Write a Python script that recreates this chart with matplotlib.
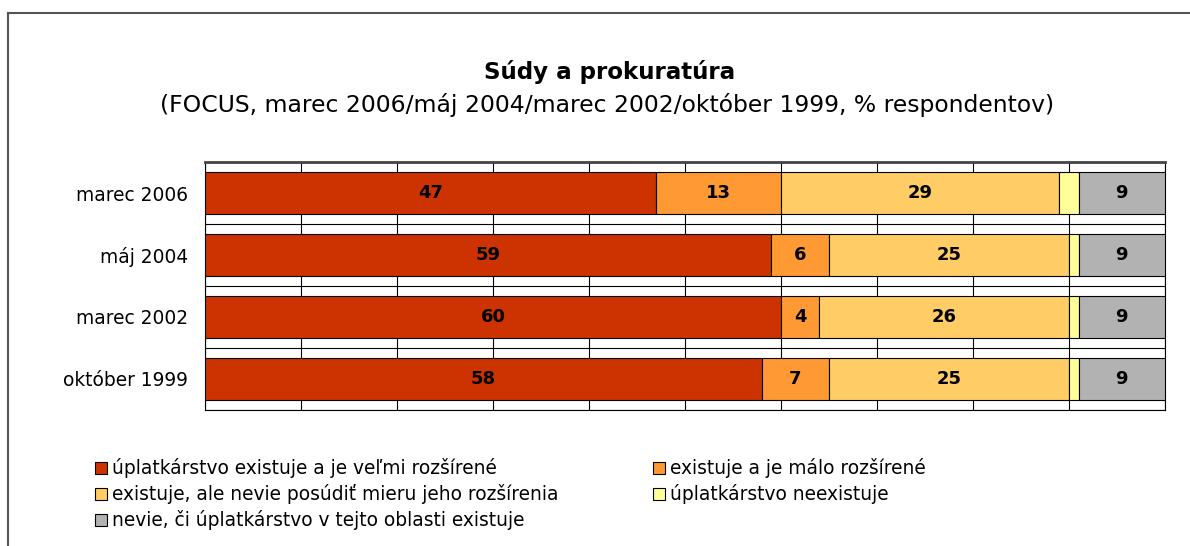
import numpy as np
import matplotlib
matplotlib.use('Agg')
import matplotlib.pyplot as plt
from matplotlib.patches import Rectangle
from matplotlib.lines import Line2D

plt.rcParams['font.family'] = ['DejaVu Sans']

# data
periods = ["marec 2006", "máj 2004", "marec 2002", "október 1999"]
series = [
    "úplatkárstvo existuje a je veľmi rozšírené",
    "existuje a je málo rozšírené",
    "existuje, ale nevie posúdiť mieru jeho rozšírenia",
    "úplatkárstvo neexistuje",
    "nevie, či úplatkárstvo v tejto oblasti existuje",
]
very_common = [47, 59, 60, 58]
little_common = [13, 6, 4, 7]
cant_judge = [29, 25, 26, 25]
not_exist = [2, 1, 1, 1]
dont_know = [9, 9, 9, 9]
colors = ["#CC3300", "#FF9933", "#FFCC66", "#FFFF99", "#B2B2B2"]
show_label = [True, True, True, False, True]

W, H = 1190, 546
fig = plt.figure(figsize=(W / 100, H / 100), dpi=100)
fig.patch.set_facecolor("white")

# outer frame (only left/top visible in the crop)
fig.add_artist(Line2D([8 / W, 8 / W], [0, 1 - 13 / H], color="#555555", lw=1.5))
fig.add_artist(Line2D([8 / W, 1], [1 - 13 / H, 1 - 13 / H], color="#555555", lw=1.5))

ax = fig.add_axes([205 / W, 1 - 410 / H, 960 / W, 248 / H])
vals = np.array([very_common, little_common, cant_judge, not_exist, dont_know])
y = np.arange(len(periods))
left = np.zeros(len(periods))
for i, name in enumerate(series):
    bars = ax.barh(y, vals[i], left=left, height=0.68, color=colors[i],
                   edgecolor="black", linewidth=0.8, label=name, zorder=3)
    if show_label[i]:
        for b, v in zip(bars, vals[i]):
            ax.text(b.get_x() + b.get_width() / 2, b.get_y() + b.get_height() / 2,
                    str(v), ha="center", va="center", fontsize=13,
                    fontweight="bold", zorder=4)
    left += vals[i]

ax.set_xlim(0, 100)
ax.set_ylim(len(periods) - 0.5, -0.5)
ax.set_xticks(np.arange(0, 101, 10))
ax.set_xticklabels([])
ax.set_yticks(y)
ax.set_yticklabels(periods, fontsize=13.4)
ax.set_yticks(np.arange(-0.5, len(periods), 1), minor=True)
ax.tick_params(axis="x", length=0)
ax.tick_params(axis="y", which="both", length=0, pad=12)
ax.grid(axis="x", which="major", color="black", lw=0.8, zorder=0)
ax.grid(axis="y", which="minor", color="black", lw=0.8, zorder=0)
for s in ax.spines.values():
    s.set_color("black")
    s.set_linewidth(0.8)
ax.spines["top"].set_linewidth(2)
ax.spines["top"].set_color("#444444")

fig.text(610 / W, 1 - 72 / H, "Súdy a prokuratúra", ha="center", va="center",
         fontsize=16.6, fontweight="bold")
fig.text(607 / W, 1 - 105 / H,
         "(FOCUS, marec 2006/máj 2004/marec 2002/október 1999, % respondentov)",
         ha="center", va="center", fontsize=16.9)

# legend, row-major in two columns
col_x = [95, 653]
row_y = [468, 494, 520]
for i, name in enumerate(series):
    cx = col_x[i % 2]
    ry = row_y[i // 2]
    fig.add_artist(Rectangle(((cx) / W, 1 - (ry + 6) / H), 12 / W, 12 / H,
                             facecolor=colors[i], edgecolor="black", lw=0.8))
    fig.text((cx + 17) / W, 1 - ry / H, name, ha="left", va="center", fontsize=13.4)

fig.savefig("out.png", dpi=100)
